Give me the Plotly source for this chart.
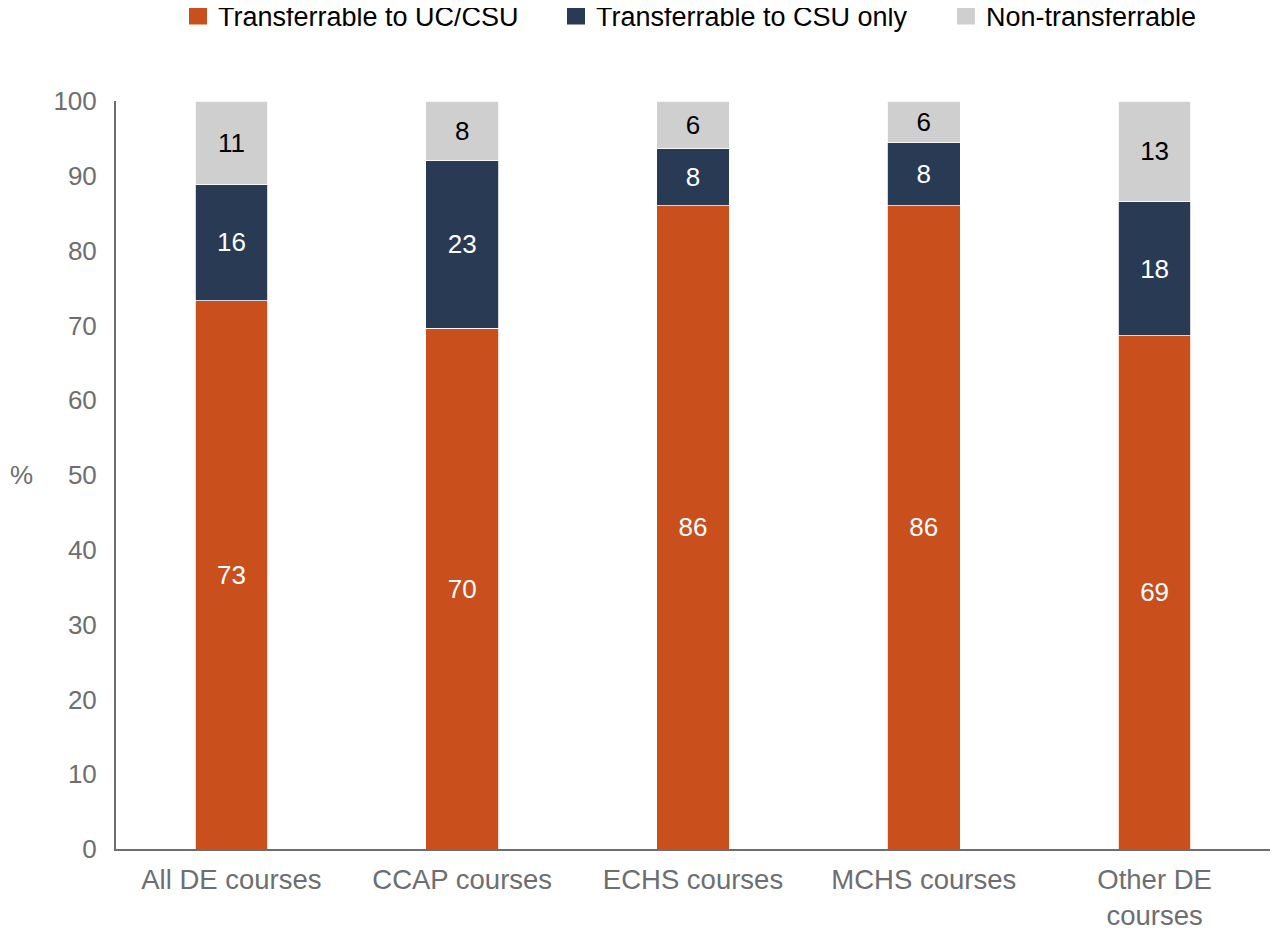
import plotly.graph_objects as go

categories = ["All DE courses", "CCAP courses", "ECHS courses", "MCHS courses", "Other DE<br>courses"]
uc_csu = [73.3, 69.6, 86.0, 86.0, 68.6]
csu_only = [15.6, 22.5, 7.7, 8.4, 18.0]
non_transfer = [11.1, 7.9, 6.3, 5.6, 13.4]
series_names = ["Transferrable to UC/CSU", "Transferrable to CSU only", "Non-transferrable"]
colors = ["#C94F1C", "#293A55", "#CFCFCF"]
text_colors = ["white", "white", "black"]
y_ticks = [0, 10, 20, 30, 40, 50, 60, 70, 80, 90, 100]

FONT = "Liberation Sans, Arial, sans-serif"
ML, MR, MT, MB = 108, 18, 93, 91
PW = 1280 - ML - MR
PH = 932 - MT - MB

legend_ids = ["legend", "legend2", "legend3"]
legend_left_px = [170, 548, 938]

fig = go.Figure()
for name, vals, col, tcol in zip(series_names, [uc_csu, csu_only, non_transfer], colors, text_colors):
    fig.add_trace(go.Bar(
        x=categories, y=vals, name=name, legendgroup=name, showlegend=False,
        marker=dict(color=col, line=dict(color="white", width=0.8)),
        texttemplate="%{y:.0f}", textposition="inside", insidetextanchor="middle",
        textfont=dict(color=tcol, size=26, family=FONT),
        hoverinfo="skip",
    ))
# legend entries (square swatches)
for name, col, lid in zip(series_names, colors, legend_ids):
    fig.add_trace(go.Scatter(
        x=[None], y=[None], mode="markers", name=name, legendgroup=name, legend=lid,
        marker=dict(symbol="square", size=16, color=col, line=dict(color=col, width=2)),
        showlegend=True, hoverinfo="skip",
    ))

legend_common = dict(
    orientation="h", xanchor="left", yanchor="middle",
    y=1 + (MT - 8) / PH,
    font=dict(size=27, color="black", family=FONT),
    itemclick=False, itemdoubleclick=False, bgcolor="rgba(0,0,0,0)",
)
legend_layout = {}
for lid, lx in zip(legend_ids, legend_left_px):
    legend_layout[lid] = dict(legend_common, x=(lx - ML) / PW)

fig.update_layout(
    barmode="stack",
    bargap=0.685,
    width=1280, height=932,
    margin=dict(l=ML, r=MR, t=MT, b=MB, autoexpand=False),
    paper_bgcolor="white", plot_bgcolor="white",
    font=dict(family=FONT, size=26, color="#6D6E71"),
    showlegend=True,
    **legend_layout,
)
fig.update_yaxes(
    range=[0, 100], tickvals=y_ticks, showgrid=False, zeroline=False,
    showline=True, linecolor="#6D6E71", linewidth=2, ticks="", automargin=False,
    ticklabelstandoff=12, tickfont=dict(size=26, color="#6D6E71"),
)
fig.update_xaxes(
    showline=True, linecolor="#6D6E71", linewidth=2, ticks="", automargin=False,
    ticklabelstandoff=5,
    tickfont=dict(size=27.5, color="#6D6E71"), showgrid=False,
)
fig.add_annotation(
    x=-(ML - 14) / PW, xref="paper", y=50, yref="y", text="%", showarrow=False,
    font=dict(size=26, color="#6D6E71"), xanchor="center", yanchor="middle",
)

fig.write_html("out.html")
